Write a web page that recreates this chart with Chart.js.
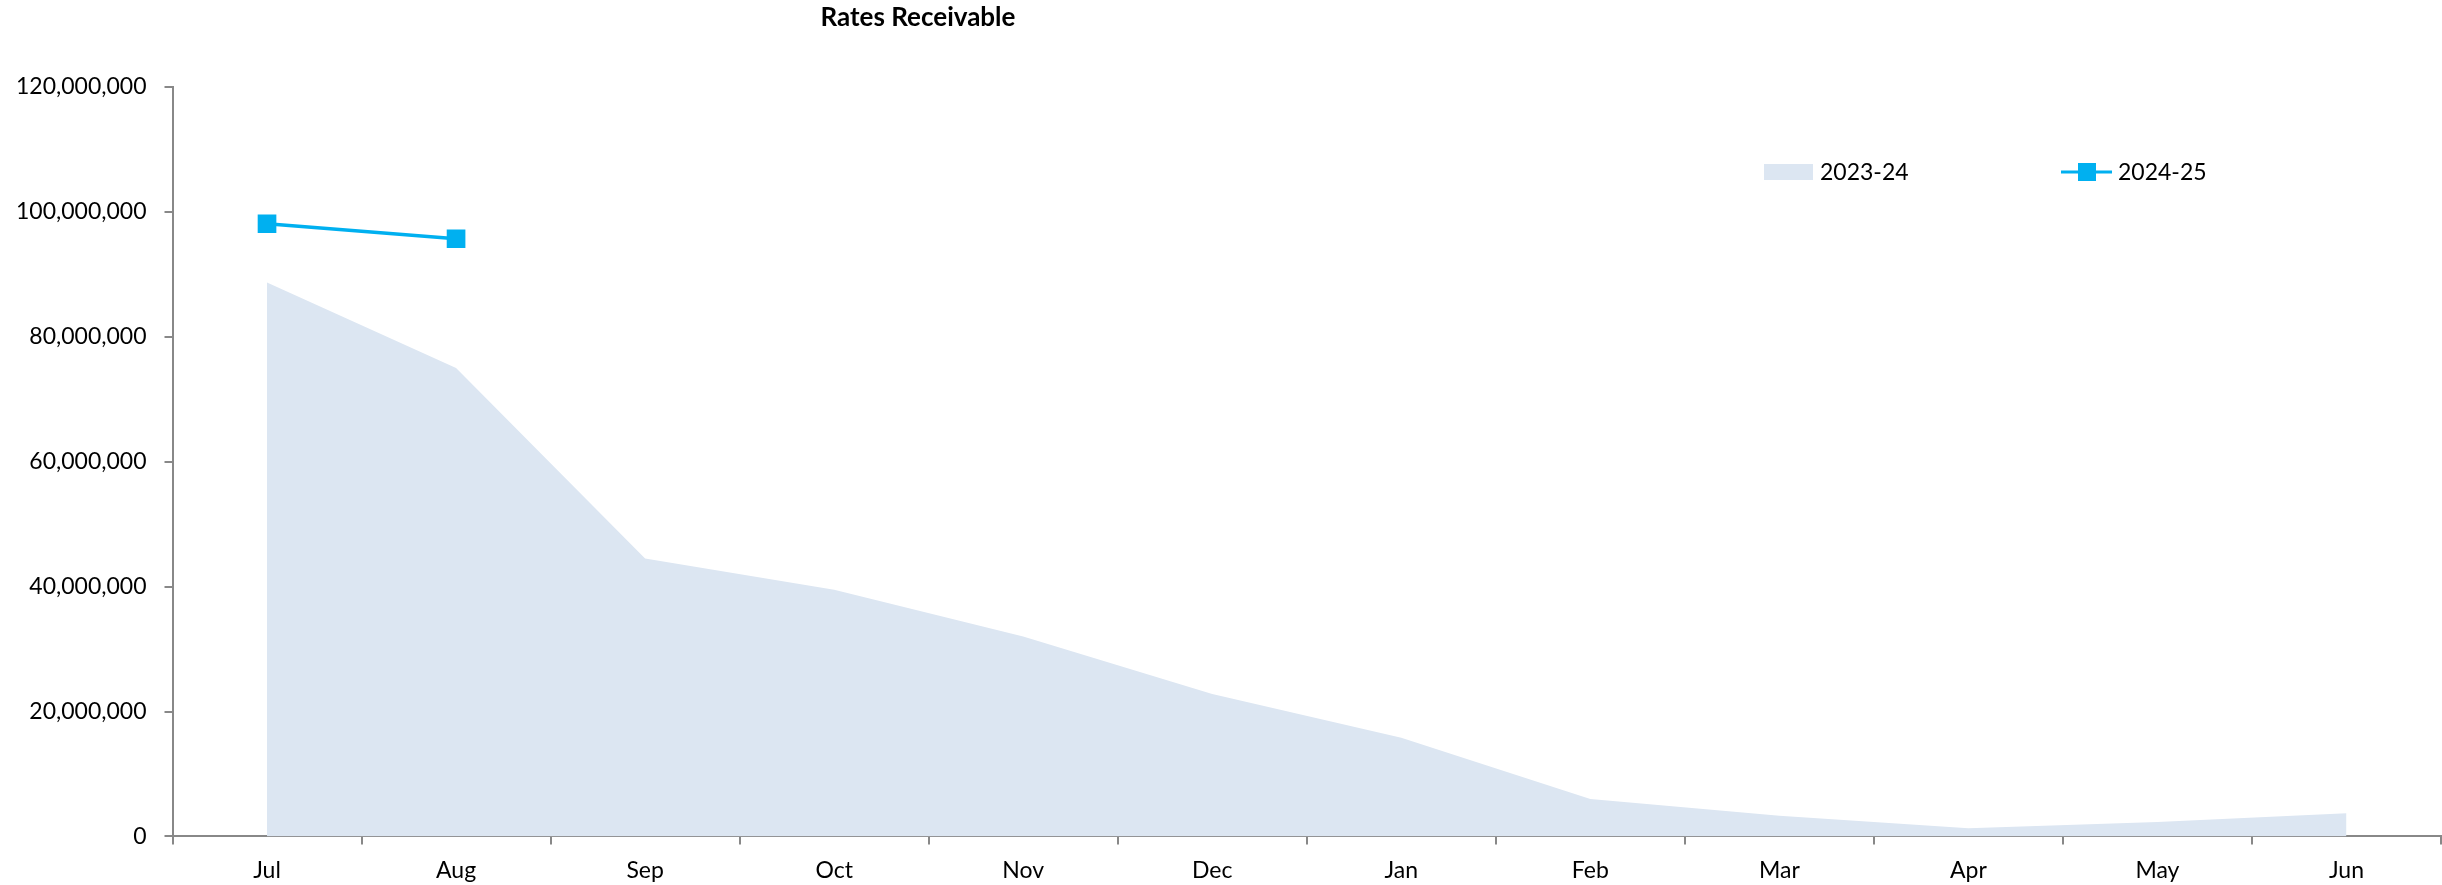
<!DOCTYPE html>
<html>
<head>
<meta charset="utf-8">
<script src="https://cdn.jsdelivr.net/npm/chart.js@4.4.0/dist/chart.umd.min.js"></script>
<style>
    body { margin: 0; background: #fff; overflow: hidden; }
    canvas { display: block; }
</style>
</head>
<body>
<canvas id="ratesChart" width="2442" height="885"></canvas>
<script>
const months = ["Jul", "Aug", "Sep", "Oct", "Nov", "Dec", "Jan", "Feb", "Mar", "Apr", "May", "Jun"];
const rates2324 = [88700000, 75000000, 44500000, 39500000, 32000000, 22800000, 15800000, 6000000, 3300000, 1300000, 2300000, 3700000];
const rates2425 = [98100000, 95700000, null, null, null, null, null, null, null, null, null, null];
const yTicks = [0, 20000000, 40000000, 60000000, 80000000, 100000000, 120000000];

const fontName = "Lato, 'Open Sans', sans-serif";
const axisGrey = '#888888';

// title + legend sit inside the plot, drawn by hand
const extrasPlugin = {
    id: 'extras',
    afterDraw(chart) {
        const ctx = chart.ctx;
        const ds = chart.data.datasets;
        ctx.save();
        ctx.fillStyle = '#000';
        ctx.textBaseline = 'middle';
        ctx.font = "bold 26px " + fontName;
        ctx.textAlign = 'center';
        ctx.fillText('Rates Receivable', 918, 18);

        ctx.font = "23px " + fontName;
        ctx.textAlign = 'left';
        // area entry
        ctx.fillStyle = ds[0].backgroundColor;
        ctx.fillRect(1764, 164, 49, 16);
        ctx.fillStyle = '#000';
        ctx.fillText(ds[0].label, 1820, 173);
        // line entry
        ctx.strokeStyle = ds[1].borderColor;
        ctx.lineWidth = 3;
        ctx.beginPath();
        ctx.moveTo(2061, 172);
        ctx.lineTo(2112, 172);
        ctx.stroke();
        ctx.fillStyle = ds[1].pointBackgroundColor;
        ctx.fillRect(2078, 163, 18, 18);
        ctx.fillStyle = '#000';
        ctx.fillText(ds[1].label, 2118, 173);
        ctx.restore();
    }
};

new Chart(document.getElementById('ratesChart'), {
    type: 'line',
    data: {
        labels: months,
        datasets: [{
            label: '2023-24',
            data: rates2324,
            backgroundColor: '#DCE6F2',
            borderWidth: 0,
            borderColor: 'rgba(0,0,0,0)',
            fill: 'origin',
            pointRadius: 0,
            tension: 0,
            order: 2
        }, {
            label: '2024-25',
            data: rates2425,
            borderColor: '#00B0F0',
            borderWidth: 3.5,
            pointStyle: 'rect',
            pointRadius: 13.2,
            pointBorderWidth: 0,
            pointBackgroundColor: '#00B0F0',
            fill: false,
            tension: 0,
            order: 1
        }]
    },
    options: {
        responsive: false,
        devicePixelRatio: 1,
        animation: false,
        layout: {
            autoPadding: false,
            padding: { top: 87, right: 1, bottom: -11, left: -2 }
        },
        plugins: {
            legend: { display: false },
            title: { display: false },
            tooltip: { enabled: false }
        },
        scales: {
            x: {
                offset: true,
                grid: {
                    offset: true,
                    drawOnChartArea: false,
                    drawTicks: true,
                    tickLength: 8,
                    color: axisGrey,
                    lineWidth: 2
                },
                border: { color: axisGrey, width: 2 },
                ticks: {
                    color: '#000',
                    padding: 12,
                    font: { family: fontName, size: 23 }
                }
            },
            y: {
                min: 0,
                max: 120000000,
                afterBuildTicks(axis) {
                    axis.ticks = yTicks.map(v => ({ value: v }));
                },
                grid: {
                    drawOnChartArea: false,
                    drawTicks: true,
                    tickLength: 8,
                    color: axisGrey,
                    lineWidth: 2
                },
                border: { color: axisGrey, width: 2 },
                ticks: {
                    color: '#000',
                    padding: 18,
                    font: { family: fontName, size: 23 },
                    callback: (v) => v.toLocaleString('en-US')
                }
            }
        }
    },
    plugins: [extrasPlugin]
});
</script>
</body>
</html>
